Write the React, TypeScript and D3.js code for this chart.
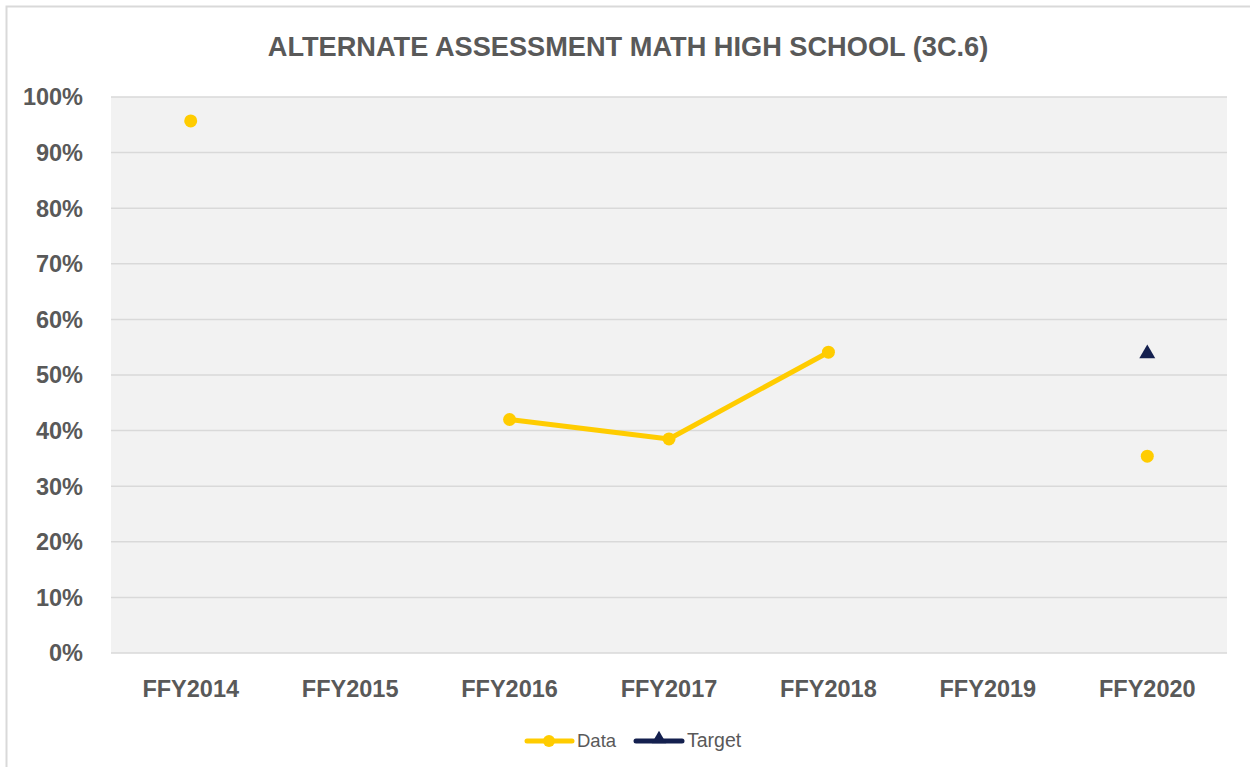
import React from "react";
import * as d3 from "d3";

const categories = ["FFY2014", "FFY2015", "FFY2016", "FFY2017", "FFY2018", "FFY2019", "FFY2020"];
const dataValues: (number | null)[] = [0.957, null, 0.42, 0.385, 0.541, null, 0.354];
const targetValues: (number | null)[] = [null, null, null, null, null, null, 0.54];
const yTicks = [0, 0.1, 0.2, 0.3, 0.4, 0.5, 0.6, 0.7, 0.8, 0.9, 1.0];
const title = "ALTERNATE ASSESSMENT MATH HIGH SCHOOL (3C.6)";

const W = 1250;
const H = 767;
const plot = { left: 111, right: 1227, top: 97, bottom: 653 };
const YELLOW = "#FFCC00";
const NAVY = "#14204F";
const TEXT = "#595959";
const GRID = "#D9D9D9";
const FONT = "'Liberation Sans', Arial, sans-serif";

export default function App() {
  const x = d3.scaleBand<string>().domain(categories).range([plot.left, plot.right]);
  const y = d3.scaleLinear().domain([0, 1]).range([plot.bottom, plot.top]);
  const cx = (c: string) => (x(c) ?? 0) + x.bandwidth() / 2;

  const line = d3
    .line<number | null>()
    .defined((d) => d !== null)
    .x((_, i) => cx(categories[i]))
    .y((d) => y(d as number));

  const tri = d3.symbol().type(d3.symbolTriangle).size(110)();

  return (
    <svg width={W} height={H} style={{ position: "absolute", left: 0, top: 0, background: "#fff" }}>
      <rect x={6.5} y={6.5} width={W + 10} height={H + 10} fill="#fff" stroke={GRID} strokeWidth={2} />
      <text x={628} y={56} textAnchor="middle" fontFamily={FONT} fontWeight="bold" fontSize={27.2} fill={TEXT}>
        {title}
      </text>
      <rect x={plot.left} y={plot.top} width={plot.right - plot.left} height={plot.bottom - plot.top} fill="#F2F2F2" />
      {yTicks.map((t) => (
        <g key={t}>
          <line x1={plot.left} x2={plot.right} y1={y(t)} y2={y(t)} stroke={GRID} strokeWidth={1.5} />
          <text x={83} y={y(t)} dy="0.36em" textAnchor="end" fontFamily={FONT} fontWeight="bold" fontSize={23.5} fill={TEXT}>
            {d3.format(".0%")(t)}
          </text>
        </g>
      ))}
      {categories.map((c) => (
        <text key={c} x={cx(c)} y={697} textAnchor="middle" fontFamily={FONT} fontWeight="bold" fontSize={23.5} fill={TEXT}>
          {c}
        </text>
      ))}
      <path d={line(dataValues) ?? ""} fill="none" stroke={YELLOW} strokeWidth={5} strokeLinejoin="round" strokeLinecap="round" />
      {dataValues.map((v, i) =>
        v === null ? null : <circle key={i} cx={cx(categories[i])} cy={y(v)} r={6.5} fill={YELLOW} />
      )}
      {targetValues.map((v, i) =>
        v === null ? null : (
          <path key={i} d={tri ?? ""} transform={`translate(${cx(categories[i])},${y(v) + 1})`} fill={NAVY} />
        )
      )}
      <g>
        <line x1={527} x2={572} y1={741} y2={741} stroke={YELLOW} strokeWidth={5} strokeLinecap="round" />
        <circle cx={549} cy={741} r={6} fill={YELLOW} />
        <text x={577} y={747} fontFamily={FONT} fontSize={18.5} fill={TEXT}>Data</text>
        <line x1={636} x2={682} y1={741} y2={741} stroke={NAVY} strokeWidth={5} strokeLinecap="round" />
        <path d={d3.symbol().type(d3.symbolTriangle).size(90)() ?? ""} transform="translate(659,739)" fill={NAVY} />
        <text x={687} y={747} fontFamily={FONT} fontSize={19.5} fill={TEXT}>Target</text>
      </g>
    </svg>
  );
}
